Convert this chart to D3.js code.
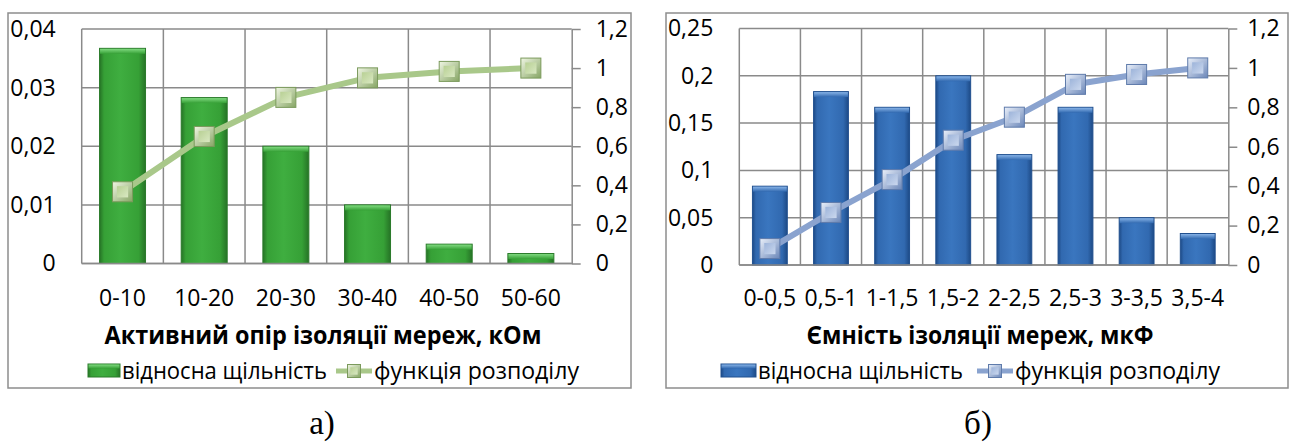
<!DOCTYPE html>
<html>
<head>
<meta charset="utf-8">
<script src="https://cdn.jsdelivr.net/npm/d3@7"></script>
<style>
  html, body { margin: 0; padding: 0; background: #fff; }
  svg { display: block; }
  text { font-family: "Open Sans", "Noto Sans", sans-serif; fill: #000; }
</style>
</head>
<body>
<svg id="chart" width="1295" height="444"></svg>
<script>
// ---- data: insulation resistance (kOhm) ----
const resCategories = ["0-10", "10-20", "20-30", "30-40", "40-50", "50-60"];
const resDensity    = [0.0367, 0.0283, 0.02, 0.01, 0.0033, 0.0017];
const resCdf        = [0.367, 0.65, 0.85, 0.95, 0.983, 1.0];
const resDensityTicks = [0, 0.01, 0.02, 0.03, 0.04];

// ---- data: insulation capacitance (uF) ----
const capCategories = ["0-0,5", "0,5-1", "1-1,5", "1,5-2", "2-2,5", "2,5-3", "3-3,5", "3,5-4"];
const capDensity    = [0.0833, 0.1833, 0.1667, 0.2, 0.1167, 0.1667, 0.05, 0.0333];
const capCdf        = [0.0833, 0.2667, 0.4333, 0.6333, 0.75, 0.9167, 0.9667, 1.0];
const capDensityTicks = [0, 0.05, 0.1, 0.15, 0.2, 0.25];

// shared right-hand axis ticks (distribution function)
const cdfTicks = [0, 0.2, 0.4, 0.6, 0.8, 1, 1.2];

// text labels
const resTitle = "Активний опір ізоляції мереж, кОм";
const capTitle = "Ємність ізоляції мереж, мкФ";
const legendBar = "відносна щільність";
const legendLine = "функція розподілу";
const resCaption = "а)";
const capCaption = "б)";

const uaLocale = d3.formatLocale({ decimal: ",", thousands: " ", grouping: [3], currency: ["", ""] });
const fmt = uaLocale.format(".2~f");

const svg = d3.select("#chart");
const defs = svg.append("defs");

const GRID = "#8a8a8a";

function makeGradients(id, c) {
  const g = defs.append("linearGradient").attr("id", id + "-bar")
    .attr("x1", "0").attr("x2", "1").attr("y1", "0").attr("y2", "0");
  [[0, c.barEdge], [0.1, c.barMid], [0.45, c.barLight], [0.85, c.barMid], [1, c.barEdge]]
    .forEach(([o, col]) => g.append("stop").attr("offset", o).attr("stop-color", col));

  const cap = defs.append("linearGradient").attr("id", id + "-cap")
    .attr("x1", "0").attr("x2", "0").attr("y1", "0").attr("y2", "1");
  [[0, c.capTop], [1, c.barMid]]
    .forEach(([o, col]) => cap.append("stop").attr("offset", o).attr("stop-color", col));

  const mo = defs.append("linearGradient").attr("id", id + "-mk")
    .attr("x1", "0").attr("x2", "1").attr("y1", "0").attr("y2", "1");
  [[0, c.mkLight], [1, c.mkDark]]
    .forEach(([o, col]) => mo.append("stop").attr("offset", o).attr("stop-color", col));

  const mi = defs.append("linearGradient").attr("id", id + "-mki")
    .attr("x1", "0").attr("x2", "1").attr("y1", "0").attr("y2", "1");
  [[0, c.mkInnerA], [1, c.mkInnerB]]
    .forEach(([o, col]) => mi.append("stop").attr("offset", o).attr("stop-color", col));
}

function marker(g, cx, cy, size, id, c) {
  const h = size / 2;
  g.append("rect")
    .attr("x", cx - h).attr("y", cy - h).attr("width", size).attr("height", size)
    .attr("fill", `url(#${id}-mk)`).attr("stroke", c.mkStroke).attr("stroke-width", 1);
  const s2 = size * 0.56;
  g.append("rect")
    .attr("x", cx - s2 / 2).attr("y", cy - s2 / 2).attr("width", s2).attr("height", s2)
    .attr("fill", `url(#${id}-mki)`);
}

function drawChart(cfg) {
  const { id, c } = cfg;
  makeGradients(id, c);
  const root = svg.append("g").attr("class", "chart-" + id);

  // outer frame
  root.append("rect")
    .attr("x", cfg.box[0]).attr("y", cfg.box[1])
    .attr("width", cfg.box[2] - cfg.box[0]).attr("height", cfg.box[3] - cfg.box[1])
    .attr("fill", "#fff").attr("stroke", "#8d8d8d").attr("stroke-width", 1.5);

  const x = d3.scaleBand().domain(cfg.categories).range([cfg.plot.left, cfg.plot.right])
    .paddingInner(0).paddingOuter(0);
  const yL = d3.scaleLinear().domain([0, d3.max(cfg.densityTicks)])
    .range([cfg.plot.bottom, cfg.plot.top]);
  const yR = d3.scaleLinear().domain([0, d3.max(cdfTicks)])
    .range([cfg.plot.bottom, cfg.plot.top]);

  // grid
  const grid = root.append("g").attr("stroke", GRID).attr("stroke-width", 1.5);
  grid.selectAll("line.h").data(cfg.densityTicks).join("line").attr("class", "h")
    .attr("x1", cfg.plot.left).attr("x2", cfg.plot.right)
    .attr("y1", d => yL(d)).attr("y2", d => yL(d));
  grid.selectAll("line.v").data(cfg.categories).join("line").attr("class", "v")
    .attr("x1", d => x(d)).attr("x2", d => x(d))
    .attr("y1", cfg.plot.top).attr("y2", cfg.plot.bottom);

  // bars
  const bw = x.bandwidth() * cfg.barRatio;
  const bars = root.append("g");
  cfg.categories.forEach((cat, i) => {
    const bx = x(cat) + (x.bandwidth() - bw) / 2;
    const by = yL(cfg.density[i]);
    const bh = yL(0) - by;
    bars.append("rect")
      .attr("x", bx).attr("y", by).attr("width", bw).attr("height", bh)
      .attr("fill", `url(#${id}-bar)`).attr("stroke", c.barStroke).attr("stroke-width", 1);
    bars.append("rect")
      .attr("x", bx + 0.5).attr("y", by + 0.5).attr("width", bw - 1).attr("height", Math.min(5, bh - 1))
      .attr("fill", `url(#${id}-cap)`);
  });

  // left axis labels (no tick marks)
  const axL = root.append("g").attr("transform", `translate(${cfg.plot.left},0)`)
    .call(d3.axisLeft(yL).tickValues(cfg.densityTicks).tickFormat(fmt).tickSize(0).tickPadding(cfg.leftPad));
  axL.select(".domain").remove();
  axL.selectAll("text").attr("font-size", 23).attr("font-family", "Open Sans").attr("fill", "#000");

  // right axis
  const axR = root.append("g").attr("transform", `translate(${cfg.plot.right},0)`)
    .call(d3.axisRight(yR).tickValues(cdfTicks).tickFormat(fmt).tickSizeInner(9).tickSizeOuter(0).tickPadding(cfg.rightPad));
  axR.select(".domain").attr("stroke", GRID).attr("stroke-width", 1.5);
  axR.selectAll(".tick line").attr("stroke", GRID).attr("stroke-width", 1.5);
  axR.selectAll("text").attr("font-size", 23).attr("font-family", "Open Sans").attr("fill", "#000");

  // zero baseline
  root.append("line").attr("x1", cfg.plot.left).attr("x2", cfg.plot.right)
    .attr("y1", yL(0)).attr("y2", yL(0)).attr("stroke", GRID).attr("stroke-width", 1.5);

  // category labels
  root.append("g").selectAll("text").data(cfg.categories).join("text")
    .attr("x", d => x(d) + x.bandwidth() / 2).attr("y", cfg.catY)
    .attr("text-anchor", "middle").attr("font-size", cfg.catSize).text(d => d);

  // distribution function line + markers
  const pts = cfg.categories.map((cat, i) => [x(cat) + x.bandwidth() / 2, yR(cfg.cdf[i])]);
  root.append("path").attr("d", d3.line()(pts))
    .attr("fill", "none").attr("stroke", c.line).attr("stroke-width", 6)
    .attr("stroke-linejoin", "round");
  const mk = root.append("g");
  pts.forEach(p => marker(mk, p[0], p[1], 20, id, c));

  // axis title
  root.append("text").attr("x", cfg.title.x).attr("y", cfg.title.y)
    .attr("text-anchor", "middle").attr("font-weight", "bold").attr("font-size", 25)
    .attr("textLength", cfg.title.w).attr("lengthAdjust", "spacingAndGlyphs")
    .text(cfg.title.text);

  // legend
  const L = cfg.legend;
  const lg = root.append("g");
  lg.append("rect").attr("x", L.swX).attr("y", L.y - 7).attr("width", L.swW).attr("height", 13)
    .attr("fill", `url(#${id}-bar)`).attr("stroke", c.barStroke).attr("stroke-width", 1);
  lg.append("rect").attr("x", L.swX + 0.5).attr("y", L.y - 6.5).attr("width", L.swW - 1).attr("height", 4)
    .attr("fill", `url(#${id}-cap)`);
  lg.append("text").attr("x", L.swX + L.swW + 2).attr("y", L.y + 8).attr("font-size", 23)
    .attr("textLength", L.textW).attr("lengthAdjust", "spacingAndGlyphs").text(legendBar);
  lg.append("line").attr("x1", L.lnX).attr("x2", L.lnX + 36).attr("y1", L.y).attr("y2", L.y)
    .attr("stroke", c.line).attr("stroke-width", 5);
  marker(lg, L.lnX + 18, L.y, 13, id, c);
  lg.append("text").attr("x", L.lnX + 38).attr("y", L.y + 8).attr("font-size", 23)
    .attr("textLength", L.textW).attr("lengthAdjust", "spacingAndGlyphs").text(legendLine);

  // caption under the frame
  svg.append("text").attr("x", cfg.caption.x).attr("y", 434)
    .attr("text-anchor", "middle")
    .style("font-family", "'Liberation Serif', 'DejaVu Serif', serif")
    .attr("font-size", 33).text(cfg.caption.text);
}

drawChart({
  id: "res",
  categories: resCategories, density: resDensity, cdf: resCdf, densityTicks: resDensityTicks,
  box: [8, 13, 631, 388],
  plot: { left: 81.7, right: 571.7, top: 29, bottom: 263.5 },
  barRatio: 0.563, leftPad: 26, rightPad: 15, catY: 306, catSize: 23,
  title: { text: resTitle, x: 323, y: 344, w: 437 },
  legend: { y: 371, swX: 88, swW: 32, lnX: 336, textW: 205 },
  caption: { text: resCaption, x: 322 },
  c: {
    barEdge: "#267326", barMid: "#36a036", barLight: "#3fae40", barStroke: "#2a7a2a", capTop: "#7fd97f",
    line: "#a9c88a", mkLight: "#f0f6e4", mkDark: "#86a564", mkInnerA: "#b8d094", mkInnerB: "#d9e8c2",
    mkStroke: "#7b9a5c"
  }
});

drawChart({
  id: "cap",
  categories: capCategories, density: capDensity, cdf: capCdf, densityTicks: capDensityTicks,
  box: [666, 13, 1288, 388],
  plot: { left: 739.3, right: 1228.3, top: 28.5, bottom: 265 },
  barRatio: 0.57, leftPad: 26, rightPad: 10, catY: 306, catSize: 23,
  title: { text: capTitle, x: 980, y: 344, w: 347 },
  legend: { y: 371, swX: 721, swW: 35, lnX: 977, textW: 205 },
  caption: { text: capCaption, x: 978 },
  c: {
    barEdge: "#1d4a86", barMid: "#3169b0", barLight: "#3a76bf", barStroke: "#21508f", capTop: "#86b2e6",
    line: "#8aa3cf", mkLight: "#eaf0fa", mkDark: "#6a86b8", mkInnerA: "#9db4da", mkInnerB: "#cbd8ee",
    mkStroke: "#5f7bab"
  }
});
</script>
</body>
</html>
